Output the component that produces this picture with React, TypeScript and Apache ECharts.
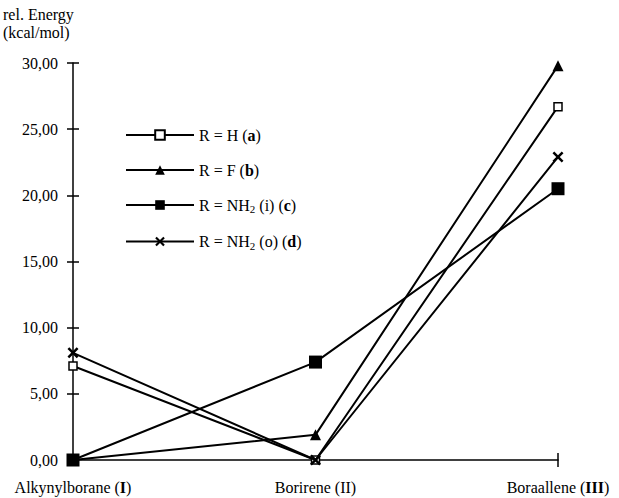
import React, { useEffect, useRef } from "react";
import * as echarts from "echarts";

const categories = ["Alkynylborane (I)", "Borirene (II)", "Boraallene (III)"];
const categoryLabels = [
  "{n|Alkynylborane (}{b|I}{n|)}",
  "{n|Borirene (II)}",
  "{n|Boraallene (}{b|III}{n|)}",
];
const seriesNames = ["R = H (a)", "R = F (b)", "R = NH2 (i) (c)", "R = NH2 (o) (d)"];
const legendLabels = [
  "{n|R = H (}{b|a}{n|)}",
  "{n|R = F (}{b|b}{n|)}",
  "{n|R = NH}{sub|2}{n| (i) (}{b|c}{n|)}",
  "{n|R = NH}{sub|2}{n| (o) (}{b|d}{n|)}",
];
const valuesA = [7.1, 0, 26.7];
const valuesB = [0, 1.9, 29.8];
const valuesC = [0, 7.4, 20.5];
const valuesD = [8.1, 0, 22.9];
const yTicks = [0, 5, 10, 15, 20, 25, 30];

const FONT = "'Liberation Serif', 'DejaVu Serif', serif";
const CROSS =
  "path://M0,1.6L1.6,0L5,3.4L8.4,0L10,1.6L6.6,5L10,8.4L8.4,10L5,6.6L1.6,10L0,8.4L3.4,5Z";

export default function App() {
  const ref = useRef<HTMLDivElement>(null);
  useEffect(() => {
    if (!ref.current) return;
    const chart = echarts.init(ref.current, undefined, { renderer: "svg" });
    const lineStyle = { color: "#000", width: 2 };
    const legendMap: Record<string, string> = {};
    seriesNames.forEach((n, i) => (legendMap[n] = legendLabels[i]));
    const lastIdx = categories.length - 1;
    chart.setOption({
      animation: false,
      backgroundColor: "#fff",
      grid: { left: 73, right: 61, top: 63, bottom: 38, containLabel: false },
      legend: {
        orient: "vertical",
        left: 120,
        top: 122,
        itemWidth: 68,
        itemHeight: 12,
        itemGap: 19,
        data: seriesNames,
        formatter: (name: string) => legendMap[name],
        textStyle: {
          fontFamily: FONT,
          fontSize: 16,
          color: "#000",
          rich: {
            n: { fontFamily: FONT, fontSize: 16, color: "#000" },
            b: { fontFamily: FONT, fontSize: 16, color: "#000", fontWeight: "bold" },
            sub: { fontFamily: FONT, fontSize: 11, color: "#000", padding: [8, 0, 0, 0] },
          },
        },
      },
      graphic: [
        {
          type: "text",
          left: 3,
          top: 5,
          style: {
            text: "rel. Energy\n(kcal/mol)",
            font: `16px ${FONT}`,
            lineHeight: 18,
            fill: "#000",
          },
        },
      ],
      xAxis: [
        {
          type: "category",
          data: categories,
          boundaryGap: false,
          axisLine: { lineStyle: { color: "#000", width: 1.5 } },
          axisTick: {
            show: true,
            length: 7,
            interval: (i: number) => i === lastIdx,
            lineStyle: { color: "#000", width: 1.5 },
          },
          axisLabel: {
            margin: 19,
            formatter: (_v: string, i: number) => categoryLabels[i],
            rich: {
              n: { fontFamily: FONT, fontSize: 16, color: "#000" },
              b: { fontFamily: FONT, fontSize: 16, color: "#000", fontWeight: "bold" },
            },
          },
          splitLine: { show: false },
        },
        {
          type: "category",
          data: categories,
          position: "bottom",
          boundaryGap: false,
          axisLine: { show: false },
          axisTick: {
            show: true,
            inside: true,
            length: 7,
            interval: (i: number) => i === lastIdx,
            lineStyle: { color: "#000", width: 1.5 },
          },
          axisLabel: { show: false },
          splitLine: { show: false },
        },
      ],
      yAxis: [
        {
          type: "value",
          min: yTicks[0],
          max: yTicks[yTicks.length - 1],
          interval: 5,
          axisLine: { show: true, lineStyle: { color: "#000", width: 1.5 } },
          axisTick: { show: true, length: 6, lineStyle: { color: "#000", width: 1.5 } },
          axisLabel: {
            margin: 15,
            fontFamily: FONT,
            fontSize: 16,
            color: "#000",
            formatter: (v: number) => v.toFixed(2).replace(".", ","),
          },
          splitLine: { show: false },
        },
        {
          type: "value",
          position: "left",
          min: yTicks[0],
          max: yTicks[yTicks.length - 1],
          interval: 5,
          axisLine: { show: false },
          axisTick: { show: true, inside: true, length: 6, lineStyle: { color: "#000", width: 1.5 } },
          axisLabel: { show: false },
          splitLine: { show: false },
        },
      ],
      series: [
        {
          name: seriesNames[0],
          type: "line",
          data: valuesA,
          symbol: "rect",
          symbolSize: 8,
          lineStyle,
          itemStyle: { color: "#fff", borderColor: "#000", borderWidth: 1.5 },
          z: 3,
        },
        {
          name: seriesNames[1],
          type: "line",
          data: valuesB,
          symbol: "triangle",
          symbolSize: 11,
          lineStyle,
          itemStyle: { color: "#000", borderColor: "#000", borderWidth: 0 },
          z: 3,
        },
        {
          name: seriesNames[2],
          type: "line",
          data: valuesC,
          symbol: "rect",
          symbolSize: 13,
          lineStyle,
          itemStyle: { color: "#000", borderColor: "#000", borderWidth: 0 },
          z: 4,
        },
        {
          name: seriesNames[3],
          type: "line",
          data: valuesD,
          symbol: CROSS,
          symbolSize: 11,
          lineStyle,
          itemStyle: { color: "#000", borderColor: "#000", borderWidth: 0 },
          z: 5,
        },
      ],
    });
    return () => chart.dispose();
  }, []);
  return (
    <div
      ref={ref}
      style={{ position: "fixed", left: 0, top: 0, width: 619, height: 498, background: "#fff" }}
    />
  );
}
